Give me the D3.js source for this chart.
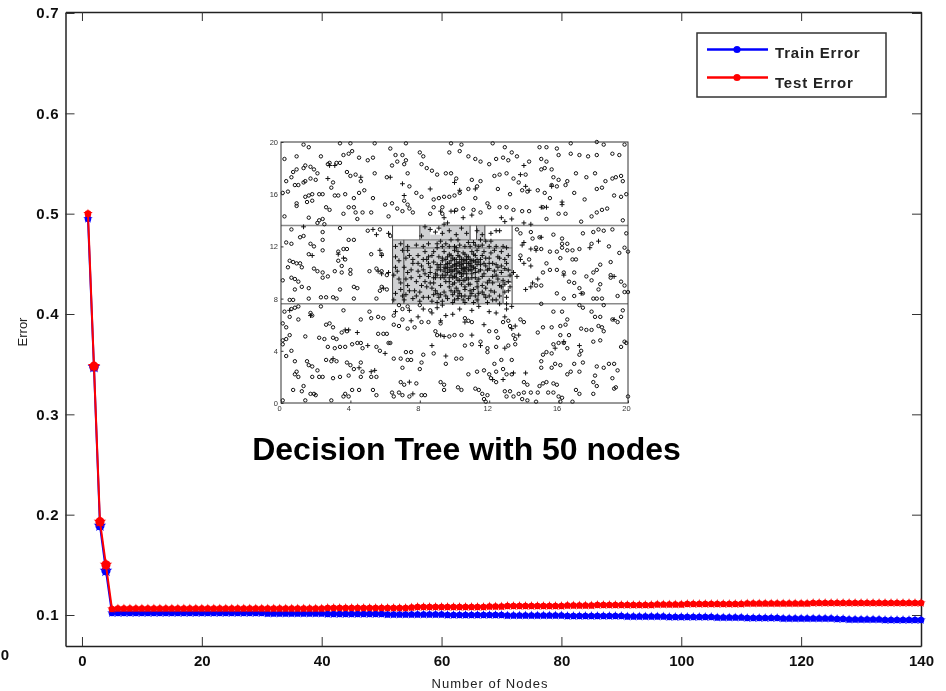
<!DOCTYPE html>
<html><head><meta charset="utf-8">
<script src="https://cdn.jsdelivr.net/npm/d3@7"></script>
<style>html,body{margin:0;padding:0;background:#fff}svg{display:block}text{font-family:"Liberation Sans",Arial,sans-serif}</style>
</head><body><svg id="c" width="946" height="691"></svg>
<script>
const xTicks=[0,20,40,60,80,100,120,140];
const yTicks=[0.1,0.2,0.3,0.4,0.5,0.6,0.7];
const nodes=d3.range(1,141);
const trainError=[.495,.347,.189,.144,.102,.102,.102,.102,.102,.102,
.102,.102,.102,.102,.102,.102,.102,.102,.102,.102,
.102,.102,.102,.102,.102,.102,.102,.102,.102,.102,
.1015,.1015,.1015,.1015,.1015,.1015,.1015,.1015,.1015,.1015,
.101,.101,.101,.101,.101,.101,.101,.101,.101,.101,
.1005,.1005,.1005,.1005,.1005,.1005,.1005,.1005,.1005,.1005,
.1,.1,.1,.1,.1,.1,.1,.1,.1,.1,
.0995,.0995,.0995,.0995,.0995,.0995,.0995,.0995,.0995,.0995,
.099,.099,.099,.099,.099,.099,.099,.099,.099,.099,
.0985,.0985,.0985,.0985,.0985,.0985,.0985,.098,.098,.098,
.098,.098,.098,.098,.098,.0975,.0975,.0975,.0975,.0975,
.097,.097,.097,.097,.097,.097,.0965,.0965,.0965,.0965,
.0965,.0965,.0965,.0965,.0965,.096,.096,.0955,.0955,.0955,
.0955,.0955,.0955,.095,.095,.095,.095,.095,.095,.095];
const testError=[.5,.348,.193,.15,.106,.1065,.1065,.1065,.1065,.1065,
.1065,.1065,.1065,.1065,.1065,.1065,.1065,.1065,.1065,.1065,
.1065,.1065,.1065,.1065,.1065,.1065,.1065,.1065,.1065,.1065,
.1065,.1065,.1065,.1065,.1065,.1065,.1065,.1065,.1065,.1065,
.107,.107,.107,.107,.107,.107,.107,.107,.107,.107,
.107,.107,.107,.107,.1075,.108,.108,.108,.108,.108,
.108,.108,.108,.108,.108,.108,.108,.1085,.1085,.1085,
.109,.109,.109,.109,.109,.109,.109,.109,.109,.109,
.1095,.1095,.1095,.1095,.1095,.11,.11,.11,.11,.11,
.11,.11,.11,.11,.11,.1105,.1105,.1105,.1105,.1105,
.111,.111,.111,.111,.111,.111,.111,.111,.111,.111,
.1115,.1115,.1115,.1115,.1115,.1115,.1115,.1115,.1115,.1115,
.1115,.112,.112,.112,.112,.112,.112,.112,.112,.112,
.112,.112,.112,.112,.112,.112,.112,.112,.112,.112];
const legendLabels=["Train Error","Test Error"];
const seriesColors=["#0000ff","#ff0000"];
const insetTicks=[0,4,8,12,16,20];
const bandLines=[7.6,13.6];
const shadedRegions=[[6.43,13.32,7.6,12.5],[8.0,8.6,12.5,13.6],[8.6,9.2,12.5,12.9],[9.2,10.9,12.5,13.6],[11.27,11.75,12.5,13.6]];
const splitV=[[6.43,7.6,13.6],[13.32,7.6,13.6],[7.08,7.6,12.5],[11.36,7.6,9.2],[8.0,12.5,13.6],[10.9,12.5,13.6],[11.27,12.5,13.6],[11.75,12.5,13.6],[12.8,7.6,9.2]];
const splitH=[[6.43,13.32,12.5],[7.08,13.32,11.88],[11.6,13.32,10.17],[11.6,13.32,9.7],[11.6,13.32,9.27]];
const circlePts=[[1.3,19.8],[1.6,19.6],[3.4,19.9],[4,19.9],[5.4,19.9],[7.2,19.9],[9.8,19.9],[10.4,19.8],[12.2,19.9],[12.9,19.6],[14.9,19.6],[15.3,19.6],[15.9,19.5],[16.7,19.9],[18.2,20],[18.6,19.8],[19.8,19.8],[.2,18.7],[.9,18.9],[2.3,18.9],[3.6,19],[3.9,19.1],[4.1,19.3],[4.5,18.8],[5,18.6],[5.3,18.8],[6.3,19.5],[6.6,19],[7,19],[7.2,18.6],[8,19.2],[8.2,18.9],[9.7,19.2],[10.3,19.3],[10.8,18.9],[11.2,18.7],[11.5,18.5],[12,18.3],[12.4,18.7],[12.8,18.8],[13.1,18.6],[13.3,19.2],[13.6,18.9],[14.3,18.5],[15,18.7],[15.3,18.5],[16,19],[16.7,19.1],[17.2,19],[17.7,18.9],[18.2,19],[19.5,19],[19.1,19.1],[.3,17],[.6,17.3],[.7,17.7],[.9,17.9],[1.3,18],[1.4,18.2],[1.7,18.1],[1.9,17.9],[2.1,17.6],[2,17.1],[1.7,17.2],[1.4,17],[1.3,16.9],[2.7,18.3],[2.8,18.4],[3.2,18.4],[3.4,18.4],[3.8,17.7],[4,17.4],[4.3,17.5],[4.6,17],[5.4,17.6],[6.1,17.3],[6.4,18.2],[6.7,18.5],[7.1,18.3],[7.3,17.6],[8.1,18.3],[8.4,18],[8.7,17.8],[9,17.5],[9.5,17.6],[9.8,17.6],[10.1,17.2],[11,17.1],[11.5,17],[11.3,16.6],[12.3,17.4],[12.6,17.5],[13,17.6],[13.4,17.2],[13.7,16.9],[14.1,17.5],[15,17.9],[15.2,18],[15.6,17.9],[15.7,17.3],[16,17.1],[16.5,17],[17,17.6],[17.6,17.3],[18.1,17.6],[18.7,17],[19.1,17.2],[19.3,17.3],[19.6,17.4],[19.7,17],[.1,16.1],[.4,16.2],[.8,16.7],[1,16.7],[.9,15.3],[.9,15.1],[1.4,15.8],[1.6,15.9],[1.8,16],[1.5,15.4],[1.8,15.5],[2.2,16],[2.4,16],[2.9,16.5],[3,16.9],[3.1,15.9],[3.3,15.9],[3.7,16],[4.2,15.7],[4.5,16.1],[4.8,16.3],[5.3,15.7],[6,15.2],[6.4,15.3],[7.1,15.5],[7.3,15.2],[7.8,16.1],[7.4,16.6],[8.1,15.8],[8.8,15.6],[9.1,15.7],[9.4,15.8],[9.7,15.8],[10,15.9],[10.3,16.1],[10.8,16.4],[11.2,15.7],[11.9,15.3],[12.5,16.4],[13.2,16],[13.9,16.3],[14.2,16.2],[14.8,16.3],[15.2,16.1],[15.6,16.7],[15.9,16.6],[16.4,16.7],[16.9,16.1],[17.5,15.6],[18.2,16.4],[18.5,16.5],[19.2,15.9],[19.6,15.8],[19.9,16],[.2,14.3],[1.6,14.2],[2.2,14],[2.4,14.1],[2.1,13.8],[2.5,13.7],[2.6,15],[2.8,14.8],[3.6,14.5],[3.9,15],[4.2,15],[4.3,14.6],[4.7,14.6],[5.2,14.6],[4.4,14.1],[6.2,14.3],[6.7,14.9],[7,14.7],[7.4,14.9],[7.6,14.6],[8.6,14.5],[8.8,15],[9.3,15],[9.3,14.5],[10.1,14.8],[10.5,14.9],[11.1,14.8],[11.5,14.6],[12,15],[12.6,15],[13,15],[13.4,14.8],[13.9,14.7],[14.3,14.7],[15.1,15],[15.3,14.1],[15.5,15.7],[16,14.5],[16.4,14.5],[17.9,14.3],[18.2,14.6],[18.5,14.8],[18.8,14.9],[19.7,14],[17.3,13.9],
[.6,13.3],[1.1,12.7],[1.3,12.8],[.3,12.3],[.6,12.2],[2.4,12.5],[2.4,13.1],[3.4,13.4],[3.9,12.5],[4.2,12.5],[5,13.2],[5.7,13.3],[6.3,12.8],[1.7,12.2],[1.9,12],[2.4,11.7],[1.6,11.4],[3.3,11.6],[3.6,11.8],[3.8,11.8],[5.2,11.4],[5.8,11.4],[.5,10.9],[.7,10.8],[.9,10.7],[1.1,10.7],[.4,10.4],[1.2,10.4],[1.9,10.3],[2.1,10.1],[2.4,10],[2.4,9.6],[2.7,9.7],[3.3,10.9],[3.5,10.5],[3.7,11],[3.1,10.1],[3.5,10],[4,10.2],[4,9.9],[.1,9.4],[.6,9.6],[.8,9.5],[1,9.3],[1.2,8.9],[.8,8.7],[1.6,8.8],[4.2,8.9],[4.4,8.8],[3.4,8.7],[5.1,10.1],[5.5,10.3],[5.8,10.1],[6.1,9.8],[5.8,8.9],[6.1,8.7],[5.7,8.6],[.5,7.9],[.7,7.9],[1.6,8],[2.3,8.1],[2.6,8.1],[3,8.1],[3.2,8],[4.2,8],[5.5,8],[13.6,13.3],[13.8,13],[14.4,13.1],[14.5,12.6],[14.9,12.7],[15.7,12.9],[16.2,12.6],[16.2,12.2],[16.5,12.2],[17.4,13],[18,13.1],[18.3,13.3],[18.6,13.2],[19.1,13.3],[19.9,13],[14.7,11.9],[15,11.8],[15.5,11.6],[15.9,11.6],[16.2,11.9],[16.5,11.7],[16.8,11.7],[17.2,11.8],[17.9,12.2],[18.9,12],[19.5,11.5],[20,11.6],[19.8,11.9],[13.8,11.3],[14.3,11],[15.3,10.7],[16.1,11.1],[16.8,11],[17,11],[18.4,10.6],[19,10.8],[15.1,10],[15.5,10.2],[15.9,10.2],[16.3,10],[16.9,10],[18.2,10.2],[18,10],[19,9.8],[19,9.6],[17.9,9.4],[17.6,9.7],[14.7,9],[15,9],[16.6,9.3],[16.9,9.2],[19.6,9.3],[19.8,9],[17.2,8.8],[18.3,8.7],[18.4,9.1],[19.8,8.5],[20,8.5],[15.9,8.4],[16.3,8],[16.9,8.2],[17.4,8.4],[18,8],[18.2,8],[18.5,8],[19.4,8.2],[15,7.6],
[.2,7],[.6,7.2],[.8,7.3],[1,7.4],[.5,6.6],[1,6.4],[1.7,6.9],[2.3,7.4],[1.8,6.7],[3.6,7.1],[5.1,7],[5.2,6.5],[5.6,6.6],[5.9,6.5],[4.6,6.4],[2.6,6],[2.8,6.1],[3,5.8],[.1,6.1],[.3,5.8],[1.4,5.1],[2.2,5],[2.5,4.9],[3,5],[3.2,4.9],[3.5,5.4],[3.8,5.5],[2.7,4.3],[3.1,4.2],[3.4,4.3],[3.7,4.3],[4.1,4.5],[4.4,4.6],[4.6,4.6],[4.7,4.2],[5.6,5.3],[5.9,5.3],[6.1,5.3],[5.5,4.3],[5.7,4],[6.2,4.6],[6.3,4.6],[.1,4.8],[.3,4.9],[.5,5.2],[.1,4.5],[.6,4],[.3,3.6],[.8,3.2],[1.5,3.2],[1.6,2.9],[1.8,2.8],[.9,2.4],[.8,2.2],[1,2],[2.1,2.5],[1.8,2],[2.2,2],[2.4,2],[3,1.9],[2.6,3.3],[2.9,3.2],[3.2,3.2],[3.8,3.1],[4,2.9],[4.6,3.1],[4.2,2.6],[4.7,2.4],[3.4,2],[3.9,2.1],[4.6,2],[5.2,2],[5.5,2],[.7,1],[1.3,1.3],[1.2,.9],[1.7,.7],[1.9,.7],[2,.6],[1.4,.2],[2.9,.2],[3.6,.5],[3.9,.5],[3.7,.7],[4.1,1],[4.5,1],[5.3,1],[5.5,.6],[6.4,.8],[6.5,.5],[6.8,.8],[7,.6],[7.1,1.4],[7.4,.5],[7.8,1.5],[8.1,.6],[8.3,.6],[9.2,1.6],[9.4,1.4],[9.4,1],[10.2,1.2],[10.4,1],[6.9,1.6],[.1,.2],[6.5,3.4],[6.9,3.4],[7.3,3.3],[7.5,3.3],[7.5,3.9],[7.2,3.9],[8.1,3.1],[8.2,3.7],[8.8,3.8],[9.5,3],[8,2.6],[7,2.7],[10.1,3.4],[10.4,3.4],[10.8,2.2],[11.3,2.4],[11.7,2.5],[12,2.2],[12.4,2.4],[12.8,2.6],[12.1,1.9],[12.4,1.6],[13,2.2],[13.3,2.2],[14,1.6],[14.2,1.4],[13.7,.7],[14,.8],[14.4,.8],[14.8,.8],[15.4,.8],[15.7,.8],[16,.5],[16.2,.4],[12.9,.9],[13.2,.9],[13,.5],[13.4,.5],[13.9,.3],[14.2,.2],[14.7,.1],[11.2,1.1],[11.4,1],[11.6,.7],[11.9,.6],[11.7,.3],[11.8,.1],[16.1,.1],[16.8,.1],[17,1],[17.2,.7],[14.9,1.3],[15.1,1.5],[15.3,1.6],[15.7,1.5],[15.9,1.4],[16.5,2.2],[16.7,2.4],[15,2.7],[15.6,2.7],[15.8,3],[16.1,2.9],[15.1,3.7],[15.3,3.9],[15.6,3.8],[16,4.6],[16.3,4.6],[16.5,4.2],[15.7,4.5],[15,3.2],[16.9,3],[17.2,3.7],[17.3,4],[17.4,3.1],[17.2,2.4],[18.1,2.1],[18.2,2.8],[18.6,2.7],[18.9,3],[19.2,3],[19.4,2.5],[19.1,1.9],[19.3,1.2],[19.2,1.1],[18,1.6],[18,.7],[18.2,1.3],[20,.5],[19.9,4.6],[19.6,4.3],[19.8,4.7],[18,4.7],[18.4,4.8],[17.9,5.6],[18.3,5.9],[18.5,5.8],[18.6,5.5],[19.1,6.4],[19.4,6.2],[19.6,6.6],[19.7,7.1],[17.3,5.7],[17.6,5.6],[16.1,5.2],[16.6,5.2],[16.1,5.9],[16.5,6.4],[15.6,5.8],[15.1,5.8],[14.8,5.4],[15.7,7],[16.2,7],[16.4,6],[17.2,7.5],[17.4,7.3],[17.9,7],[18.1,6.6],[18.4,6.6],[18.6,7.5],[13.1,6.3],[13.2,5.9],[13.4,5.2],[13.8,6.4],[14,6.2],[13.5,4.9],[13.1,4.4],[13.5,4.5],[12,5.5],[12.4,5.5],[12.5,5],[11.5,4.7],[11,4.5],[10.6,4.4],[11.9,4.2],[11.9,3.9],[12.4,4.3],[13.3,3.3],[12.7,3.3],[12.3,3],[10.4,5.2],[10,5.2],[9.7,5.1],[9,5.2],[8.9,5.5],[7.7,5.8],[7.3,5.7],[6.5,6],[6.8,5.9],[6.5,6.7],[7,6.4],[8.1,6.2],[8.5,6.2],[9.2,6.1],[10.6,6.5],[10.8,6.3],[11,6.2],[12.8,6.2],[7.3,7.4],[7,7.2],[6.8,7.5],[8,7.5],[8.6,7.1]];
const plusPts=[[3.1,18.2],[2.7,17.2],[4.6,17.3],[6.3,17.3],[7,16.8],[7.1,15.9],[8.6,16.4],[10,16.9],[10.3,16.3],[11.2,16.4],[14.1,16.6],[14.3,16.3],[13.8,17.5],[14,18.2],[15.6,16.6],[16.2,15.4],[16.2,15.2],[15,15],[15.3,15],[9.2,14.7],[9.8,14.7],[9.4,14.2],[10,14.7],[10.5,14.2],[11,14.4],[12.7,14.2],[12.9,13.9],[13.3,14.1],[14,13.8],[14.4,13.7],[1.3,13.5],[5.3,13.3],[5.5,12.9],[6.2,13],[1.8,11.3],[3.3,11.4],[3.6,11.1],[5.7,11.7],[5.8,11.3],[5.6,10.1],[5.8,9.9],[6.2,10],[5.9,8.8],[2.8,18.2],[.5,7.1],[1.7,6.7],[3.7,5.6],[4.4,5.4],[3.9,5.6],[5,4.4],[6,3.8],[3,3.4],[4.5,2.7],[5.4,2.5],[9.2,5.2],[9.4,5.1],[8.7,4.4],[9.5,3.6],[11,5.2],[11.5,4.4],[12.9,4.2],[13.3,5.7],[13.5,5.9],[15.8,4.2],[16.3,4.7],[19.2,6.4],[17.2,4.4],[12.8,1.8],[12.2,1.8],[13.4,2.3],[14.1,2.3],[13.7,5.2],[5.2,2.4],[7.4,1.6],[7.6,.7],[17.8,11.9],[18.3,12.4],[14,12.3],[13.9,12.1],[14.4,11.8],[14.7,11.7],[15,12.7],[13.8,11],[14,10.7],[14.4,10.5],[14.8,9.5],[14.5,9.2],[14.1,8.7],[14.4,8.9],[13.6,9.7],[13.4,10],[17.3,8.4],[16.3,9.8],[19.2,9.7],
[6.6,11.2],[6.8,10.9],[6.5,9.8],[6.8,9.5],[6.6,8.4],[6.9,8.7],[6.5,7.9],[7,11.7],[7.3,12],[7.1,10.4],[7.3,10],[7.2,8.3],[7.5,9.6],[7.6,11],[7.6,8],[7.8,9.3],[7.9,11.3],[7.9,10.1],[8,8.5],[8,7.8],[8.2,12],[8.3,9.9],[8.4,8.9],[8.4,11],[8.5,8.1],[8.6,10.4],[8.6,9.2],[8.7,7.8],[8.8,11.6],[8.8,10.8],[8.9,9.6],[8.9,8.6],[9,12.2],[9,10.2],[9.1,11.2],[9.1,8.1],[9.2,9],[9.2,10.6],[9.3,7.8],[9.3,9.8],[9.4,11.6],[9.4,10.4],[9.4,8.5],[9.5,9.3],[9.5,11],[9.5,12.2],[9.6,10],[9.6,10.7],[9.6,8],[9.7,8.9],[9.7,9.6],[9.7,11.4],[9.8,10.4],[9.8,10.9],[9.8,12.5],[9.9,9.1],[9.9,8.3],[9.9,10.1],[9.9,11.1],[10,10.6],[10,9.7],[10,11.7],[10,7.9],[10.1,10.3],[10.1,11],[10.1,8.8],[10.2,9.4],[10.2,10.7],[10.2,11.3],[10.3,10],[10.3,10.5],[10.3,12.1],[10.3,8.4],[10.4,11],[10.4,9.7],[10.4,9.1],[10.5,10.7],[10.5,10.2],[10.5,11.5],[10.5,7.9],[10.6,10.9],[10.6,9.4],[10.6,8.7],[10.7,10.4],[10.7,11.2],[10.7,9.9],[10.8,10.7],[10.8,12.3],[10.8,9.1],[10.9,10.2],[10.9,11],[10.9,8.2],[11,11.6],[11,9.6],[11,10.5],[11.1,8.7],[11.1,10.9],[11.2,10],[11.2,11.3],[11.3,9.3],[11.3,10.6],[11.3,7.9],[11.4,12],[11.4,8.4],[11.5,10.2],[11.5,11],[11.6,9.7],[11.6,9],[11.7,10.7],[11.7,11.6],[11.8,8.1],[11.8,12.4],[11.9,10.2],[12,9.4],[12,11.1],[12.1,8.6],[12.2,10.7],[12.3,11.7],[12.4,9.8],[12.4,7.9],[12.5,10.4],[12.6,11.1],[12.7,8.9],[12.8,12],[12.8,9.4],[13,10.7],[13,8.1],[13.1,11.3],[13.2,9.8],[13.2,8.9],[8.1,12.8],[8.6,13.3],[8.9,13.1],[9.1,13.4],[9.3,13],[9.7,13.2],[10.1,12.9],[10.4,13.4],[10.7,13],[11.3,13.2],[11.6,12.9],[12.1,13],[12.4,13.2],[12.6,13.2],[8.3,13.5],[9.4,13.7],[9.6,13.8],[7.3,9],[7.6,10.7],[7.1,7.9],[8.3,11.6],[8.1,10.5],[9,7.7],[9.9,7.7],[10.6,7.7],[11.1,7.7],[11.9,7.7],[12.6,7.6],[13,7.6],[6.6,7],[7.4,7.1],[7.9,6.6],[8.2,7.2],[8.7,6.9],[9,7.3],[9.2,6.3],[9.5,6.7],[9.9,6.8],[10.3,7.2],[10.6,6.2],[11,7.1],[11.4,7.4],[11.7,6],[12,7],[12.4,6.9],[12.9,6.6],[13,7.2],[13.3,7.4],[7.5,6.3],[6.6,10.4],[6.9,12.2],[6.6,12],[7.2,11.1],[8.5,11.2],[8.1,9],[8.2,8.1],[8.5,9.7],[9.2,12.4],[10.2,12.5],[11.1,12.3],[11.5,12.5],[12.1,12.4],[12.9,10.3],[12.7,10],[12.2,9.7],[13.1,9.3],[12.2,7.9],[9.3,7.5],[10.2,8],[9.2,10.2],[9.5,10.6],[9.8,9.8],[10.1,9.9],[10.4,10.3],[10.6,10.3],[10.3,10.8],[10.7,11],[10.9,10.7],[9.7,10.2],[10.1,10.5],[10.5,9.9],[11,10.2],[11.2,10.8],[9.4,9.6],[8.8,9.2],[9,9.8],[11.4,10.8],[11.8,10.5],[9,10.6],[9.3,11.1],[10,12],[11.3,11.7],[12,10.3],[12.3,10.1],[12.5,11.2],[12.6,9],[11.8,8.8],[10.8,8],[8.8,8.3],[8.2,10.2],[7.9,10.7],[7.4,11.3],[7.2,9.5],[7.7,8.6],
[8.9,9.9],[9.1,10.4],[9.2,9.6],[9.3,10.9],[9.4,10.1],[9.5,10.3],[9.5,9.8],[9.6,11.2],[9.6,10.4],[9.7,10.7],[9.7,9.3],[9.8,10.1],[9.8,11.3],[9.9,10.5],[9.9,9.6],[10,10.2],[10,11],[10,9.2],[10.1,10.7],[10.1,9.6],[10.2,10.1],[10.2,11.6],[10.2,8.6],[10.3,9.4],[10.3,11.2],[10.4,10.6],[10.4,9.9],[10.4,8.2],[10.5,10.4],[10.5,11],[10.5,9.4],[10.6,10.1],[10.6,11.4],[10.6,8.9],[10.7,10.7],[10.7,9.6],[10.8,10.2],[10.8,11.2],[10.8,9.5],[10.9,10.5],[10.9,9.1],[11,10.9],[11,9.9],[11,8.4],[11.1,10.4],[11.1,11.4],[11.2,9.6],[11.2,10.3],[11.3,11],[11.3,8.9],[11.4,10.1],[11.4,9.5],[11.5,10.6],[11.6,11.3],[11.6,8.5],[11.7,9.9],[11.8,11.1],[11.9,9.2],[12,10.7],[12.1,11.5],[8.6,10],[8.5,10.7],[8.7,8.8],[8.7,11.3],[8.8,9.6],[8.3,9.3],[8.2,11],[8,9.7],[7.8,8.2],[7.5,10.2],[7.4,8.6],[7.3,11.7],[6.7,10.1],[6.9,9.2],[7,8.2],[9,8.4],[9.2,8.3],[9.5,8.2],[9.8,8.6],[10,8.5],[10.2,8.2],[10.6,8.2],[10.9,8.6],[11.2,8.2],[11.7,8.3],[12,8.2],[12.3,8.5],[12.6,8.2],[12.9,8.5],[13.1,8.6],[9,11.9],[9.3,12],[9.7,12],[10.1,11.9],[10.6,12],[10.9,12],[11.2,12.1],[11.6,12.1],[12,12],[12.4,12],[12.7,11.6],[13,11.9],[8.5,12.2],[7.8,12.1],[12.9,11],[12.4,10.6],[12.7,10.5],[13.1,10.2],[12.5,9.5],[12.2,9.2],[12.9,9.1]];

const svg=d3.select("#c");
const defs=svg.append("defs");
defs.append("filter").attr("id","soft").append("feGaussianBlur").attr("stdDeviation",0.45);
defs.append("filter").attr("id","softer").append("feGaussianBlur").attr("stdDeviation",0.5);

const x=d3.scaleLinear().domain([-2.75,140]).range([65.5,921]);
const y=d3.scaleLinear().domain([0.1,0.7]).range([615,13]);
y.domain([y.invert(646),y.invert(12)]).range([646,12]);

const g=svg.append("g").attr("filter","url(#soft)");

function style(a){a.selectAll("path.domain").attr("stroke","#222").attr("stroke-width",1.5);
 a.selectAll("line").attr("stroke","#333").attr("stroke-width",1);
 a.selectAll("text").attr("font-size",15).attr("font-weight","bold").attr("fill","#111");}
g.append("g").attr("transform","translate(0,646)").call(d3.axisBottom(x).tickValues(xTicks).tickSize(-9).tickSizeOuter(0).tickPadding(9).tickFormat(d3.format("d"))).call(style);
g.append("g").attr("transform","translate(0,12)").call(d3.axisTop(x).tickValues(xTicks).tickSize(-9).tickSizeOuter(0).tickFormat("")).call(style);
const yAxisG=g.append("g").attr("transform","translate(65.5,0)").call(d3.axisLeft(y).tickValues(yTicks).tickSize(-9).tickSizeOuter(0).tickPadding(6).tickFormat(d3.format(".1f"))).call(style);
yAxisG.selectAll("text").attr("letter-spacing",.8);
g.append("g").attr("transform","translate(921,0)").call(d3.axisRight(y).tickValues(yTicks).tickSize(-9).tickSizeOuter(0).tickFormat("")).call(style);

g.append("text").attr("x",9).attr("y",660).attr("text-anchor","end").attr("font-size",15).attr("font-weight","bold").attr("fill","#111").text("0");
g.append("text").attr("x",490).attr("y",688).attr("text-anchor","middle").attr("font-size",13).attr("letter-spacing",1).attr("fill","#222").text("Number of Nodes");
g.append("text").attr("transform","translate(27,332) rotate(-90)").attr("text-anchor","middle").attr("font-size",13).attr("fill","#222").text("Error");

const star=d3.symbol().type(d3.symbolStar);
const line=d3.line().x((d,i)=>x(nodes[i])).y(d=>y(d));
const big=i=>i>=1&&i<=3;
[trainError,testError].forEach((vals,k)=>{
 g.append("path").attr("d",line(vals)).attr("fill","none").attr("stroke",seriesColors[k]).attr("stroke-width",2);
 const m=g.append("g").selectAll("g").data(vals).join("g")
  .attr("transform",(d,i)=>`translate(${x(nodes[i])},${y(d)})`).attr("fill",seriesColors[k]);
 m.append("circle").attr("r",(d,i)=>big(i)?4.6:3.3);
 m.append("path").attr("d",(d,i)=>star.size(big(i)?50:28)());
});

const lg=g.append("g");
lg.append("rect").attr("x",697).attr("y",33).attr("width",189).attr("height",64).attr("fill","#fff").attr("stroke","#333").attr("stroke-width",1.5);
legendLabels.forEach((t,k)=>{
 const ly=[49.5,77.5][k];
 lg.append("line").attr("x1",707).attr("x2",768).attr("y1",ly).attr("y2",ly).attr("stroke",seriesColors[k]).attr("stroke-width",2.4);
 lg.append("circle").attr("cx",737).attr("cy",ly).attr("r",3.6).attr("fill",seriesColors[k]);
 lg.append("text").attr("x",775).attr("y",[57.5,87.5][k]).attr("font-size",15).attr("font-weight","bold").attr("letter-spacing",0.8).attr("fill","#222").text(t);
});

const ix=d3.scaleLinear().domain([0,20]).range([281,628]);
const iy=d3.scaleLinear().domain([0,20]).range([403,142]);
const ins=svg.append("g").attr("filter","url(#softer)");
ins.append("rect").attr("x",281).attr("y",142).attr("width",347).attr("height",261).attr("fill","#fff");
ins.selectAll("rect.r").data(shadedRegions).join("rect").attr("class","r")
 .attr("x",d=>ix(d[0])).attr("width",d=>ix(d[1])-ix(d[0])).attr("y",d=>iy(d[3])).attr("height",d=>iy(d[2])-iy(d[3])).attr("fill","#cfd0d2");
ins.append("rect").attr("x",ix(12.8)).attr("width",ix(13.32)-ix(12.8)).attr("y",iy(9.2)).attr("height",iy(7.6)-iy(9.2)).attr("fill","#fff");
ins.selectAll("line.b").data(bandLines).join("line").attr("class","b").attr("x1",281).attr("x2",628).attr("y1",d=>iy(d)).attr("y2",d=>iy(d)).attr("stroke","#8a8a8a").attr("stroke-width",1.4);
ins.selectAll("line.v").data(splitV).join("line").attr("class","v").attr("x1",d=>ix(d[0])).attr("x2",d=>ix(d[0])).attr("y1",d=>iy(d[1])).attr("y2",d=>iy(d[2])).attr("stroke","#333").attr("stroke-width",.9);
ins.selectAll("line.h").data(splitH).join("line").attr("class","h").attr("x1",d=>ix(d[0])).attr("x2",d=>ix(d[1])).attr("y1",d=>iy(d[2])).attr("y2",d=>iy(d[2])).attr("stroke","#555").attr("stroke-width",.8);
ins.selectAll("circle").data(circlePts).join("circle").attr("cx",d=>ix(d[0])).attr("cy",d=>iy(d[1])).attr("r",1.7).attr("fill","none").attr("stroke","#111").attr("stroke-width",1);
ins.selectAll("path.p").data(plusPts).join("path").attr("class","p").attr("transform",d=>`translate(${ix(d[0])},${iy(d[1])})`).attr("d","M-2.4,0H2.4M0,-2.4V2.4").attr("fill","none").attr("stroke","#111").attr("stroke-width",1);
ins.append("rect").attr("x",281).attr("y",142).attr("width",347).attr("height",261).attr("fill","none").attr("stroke","#333").attr("stroke-width",1);
const ib=ins.append("g").attr("transform","translate(0,403)").call(d3.axisBottom(ix).tickValues(insetTicks).tickSize(-2.5).tickSizeOuter(0).tickPadding(3));
const il=ins.append("g").attr("transform","translate(281,0)").call(d3.axisLeft(iy).tickValues(insetTicks).tickSize(-2.5).tickSizeOuter(0).tickPadding(3));
[ib,il].forEach(a=>{a.select("path.domain").remove();a.selectAll("line").attr("stroke","#333");a.selectAll("text").attr("font-size",7.5).attr("fill","#333");});
ib.selectAll("text").attr("dx",-2);

svg.append("text").attr("x",466.5).attr("y",460).attr("text-anchor","middle").attr("font-size",32).attr("font-weight","bold").attr("fill","#000").text("Decision Tree with 50 nodes");
</script></body></html>
